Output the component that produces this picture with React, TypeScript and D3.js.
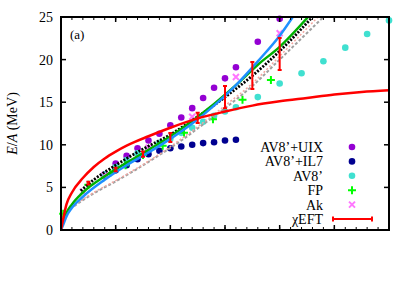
import React from "react";
import * as d3 from "d3";

// AFDMC points
const uixRho = [0.04, 0.05, 0.06, 0.07, 0.08, 0.09, 0.1, 0.11, 0.12, 0.13, 0.14, 0.15, 0.16, 0.18, 0.2];
const uixE = [6.5, 7.8, 8.7, 9.6, 10.5, 11.3, 12.3, 13.2, 14.3, 15.5, 16.7, 17.8, 19.1, 22.1, 24.8];

const il7Rho = [0.04, 0.05, 0.06, 0.07, 0.08, 0.09, 0.1, 0.11, 0.12, 0.13, 0.14, 0.15, 0.16];
const il7E = [6.4, 7.0, 7.6, 8.3, 8.9, 9.3, 9.6, 9.8, 10.0, 10.2, 10.3, 10.5, 10.6];

const av8Rho = [0.04, 0.05, 0.06, 0.07, 0.08, 0.09, 0.1, 0.11, 0.12, 0.13, 0.14, 0.15, 0.16, 0.18, 0.2, 0.22, 0.24, 0.26, 0.28, 0.3];
const av8E = [6.5, 7.4, 8.2, 9.0, 9.6, 10.2, 10.7, 11.4, 12.0, 12.7, 13.4, 13.9, 14.4, 15.6, 17.2, 18.4, 19.8, 21.4, 23.0, 24.6];

const fpRho = [0.002, 0.025, 0.045, 0.059, 0.075, 0.093, 0.1125, 0.139, 0.166, 0.192];
const fpE = [1.9, 5.3, 6.7, 7.6, 8.8, 9.9, 11.4, 13.0, 15.3, 17.6];

const akRho = [0.02, 0.04, 0.08, 0.12, 0.16, 0.2];
const akE = [4.5, 6.45, 9.65, 13.29, 17.96, 23.1];

// chiral EFT with error bars
const eftRho = [0.025, 0.05, 0.075, 0.1, 0.125, 0.15, 0.175, 0.2];
const eftE = [5.5, 7.1, 8.9, 10.86, 13.15, 15.6, 18.13, 20.66];
const eftErr = [0.15, 0.2, 0.3, 0.53, 0.6, 1.3, 1.58, 1.88];

// curves
const redRho = [0, 0.002, 0.005, 0.01, 0.02, 0.03, 0.04, 0.05, 0.06, 0.08, 0.1, 0.125, 0.15, 0.175, 0.2, 0.225, 0.25, 0.275, 0.3];
const redE = [0, 1.3, 3.0, 4.4, 6.1, 7.4, 8.4, 9.2, 9.9, 11.0, 12.0, 13.1, 13.9, 14.6, 15.1, 15.5, 15.9, 16.2, 16.4];

const blueRho = [0, 0.002, 0.005, 0.01, 0.02, 0.04, 0.06, 0.08, 0.1, 0.12, 0.14, 0.16, 0.18, 0.2, 0.212];
const blueE = [0, 0.6, 1.6, 2.6, 3.9, 5.9, 7.6, 9.1, 10.7, 12.5, 14.6, 17.0, 19.8, 22.8, 25.0];

const greenRho = [0, 0.002, 0.005, 0.01, 0.02, 0.04, 0.06, 0.08, 0.1, 0.12, 0.14, 0.16, 0.18, 0.2, 0.226];
const greenE = [0, 1.0, 2.0, 3.0, 4.4, 6.3, 7.9, 9.4, 11.0, 12.8, 14.8, 17.0, 19.4, 21.5, 25.0];

const dotRho = [0.018, 0.03, 0.05, 0.075, 0.1, 0.125, 0.15, 0.175, 0.2, 0.23];
const dotE = [4.6, 5.9, 7.6, 9.5, 11.2, 13.3, 15.6, 18.1, 21.0, 25.0];

const grayRho = [0.012, 0.02, 0.03, 0.05, 0.07, 0.09, 0.11, 0.13, 0.15, 0.175, 0.2, 0.24];
const grayE = [2.8, 3.5, 4.3, 5.7, 7.2, 8.8, 10.5, 12.4, 14.3, 16.9, 20.0, 25.0];

const salmonRho = [0.012, 0.02, 0.03, 0.05, 0.07, 0.09, 0.11, 0.13, 0.15, 0.175, 0.2, 0.235];
const salmonE = [2.9, 3.6, 4.4, 5.8, 7.3, 8.9, 10.7, 12.6, 14.6, 17.2, 20.4, 25.0];

const yTicks = [0, 5, 10, 15, 20, 25];
const legendLabels = ["AV8\u2019+UIX", "AV8\u2019+IL7", "AV8\u2019", "FP", "Ak", "\u03c7EFT"];

const W = 415;
const H = 291;
const L = 61, R = 389, T = 17, B = 230;

const zip = (xs: number[], ys: number[]) => xs.map((x, i) => [x, ys[i]] as [number, number]);

export default function App() {
  const x = d3.scaleLinear().domain([0, 0.3]).range([L, R]);
  const y = d3.scaleLinear().domain([0, 25]).range([B, T]);
  const line = d3
    .line<[number, number]>()
    .x((d) => x(d[0]))
    .y((d) => y(d[1]))
    .curve(d3.curveMonotoneX);

  const majorX = d3.range(0, 0.3001, 0.05);
  const minorX = d3.range(0, 0.3001, 0.01);
  const serif = { fontFamily: "Liberation Serif" };

  const dots = (rho: number[], e: number[], color: string) =>
    zip(rho, e).map((d, i) => <circle key={i} cx={x(d[0])} cy={y(d[1])} r={3.3} fill={color} />);

  const plus = (cx: number, cy: number, color: string, k: React.Key) => (
    <path key={k} d={`M${cx - 4},${cy}H${cx + 4}M${cx},${cy - 4}V${cy + 4}`} stroke={color} strokeWidth={2} />
  );
  const cross = (cx: number, cy: number, color: string, k: React.Key) => (
    <path key={k} d={`M${cx - 3},${cy - 3}L${cx + 3},${cy + 3}M${cx - 3},${cy + 3}L${cx + 3},${cy - 3}`} stroke={color} strokeWidth={2} />
  );

  const legY = (i: number) => 147 + i * 14.4;

  return (
    <svg width={W} height={H} style={{ position: "absolute", left: 0, top: 0, background: "#fff" }}>
      <defs>
        <clipPath id="plot">
          <rect x={L} y={T} width={R - L} height={B - T} />
        </clipPath>
      </defs>

      {/* points */}
      <g>{dots(uixRho, uixE, "#9400d3")}</g>
      <g>{dots(il7Rho, il7E, "#000090")}</g>
      <g>{dots(av8Rho, av8E, "#40e0d0")}</g>
      <g>{zip(fpRho, fpE).map((d, i) => plus(x(d[0]), y(d[1]), "#00ff00", i))}</g>
      <g>{zip(akRho, akE).map((d, i) => cross(x(d[0]), y(d[1]), "#ff77ff", i))}</g>

      {/* curves */}
      <g clipPath="url(#plot)" fill="none">
        <path d={line(zip(grayRho, grayE)) || ""} stroke="#a0a0a0" strokeWidth={2} strokeDasharray="3 2" />
        <path d={line(zip(salmonRho, salmonE)) || ""} stroke="#f4a6a0" strokeWidth={1.5} strokeDasharray="2 2" />
        <path d={line(zip(dotRho, dotE)) || ""} stroke="#000" strokeWidth={2.8} strokeDasharray="2 1.5" />
        <path d={line(zip(greenRho, greenE)) || ""} stroke="#00b000" strokeWidth={2.5} />
        <path d={line(zip(blueRho, blueE)) || ""} stroke="#1e8fff" strokeWidth={2.5} />
        <path d={line(zip(redRho, redE)) || ""} stroke="#ff0000" strokeWidth={2.5} />
      </g>

      {/* chiEFT error bars */}
      <g stroke="#ff0000" strokeWidth={2}>
        {eftRho.map((r, i) => {
          const cx = x(r);
          const y0 = y(eftE[i] - eftErr[i]);
          const y1 = y(eftE[i] + eftErr[i]);
          return (
            <path key={i} d={`M${cx},${y0}V${y1}M${cx - 2},${y0}H${cx + 2}M${cx - 2},${y1}H${cx + 2}`} />
          );
        })}
      </g>

      {/* frame and ticks */}
      <g stroke="#000" strokeWidth={1}>
        {minorX.map((v, i) => (
          <g key={"mx" + i}>
            <line x1={x(v)} x2={x(v)} y1={B} y2={B - 3} />
            <line x1={x(v)} x2={x(v)} y1={T} y2={T + 3} />
          </g>
        ))}
        {majorX.map((v, i) => (
          <g key={"Mx" + i}>
            <line x1={x(v)} x2={x(v)} y1={B} y2={B - 5} strokeWidth={1.5} />
            <line x1={x(v)} x2={x(v)} y1={T} y2={T + 5} strokeWidth={1.5} />
          </g>
        ))}
        {yTicks.map((v, i) => (
          <g key={"y" + i}>
            <line x1={L} x2={L + 5} y1={y(v)} y2={y(v)} strokeWidth={1.5} />
            <line x1={R} x2={R - 5} y1={y(v)} y2={y(v)} strokeWidth={1.5} />
          </g>
        ))}
      </g>
      <rect x={L} y={T} width={R - L} height={B - T} fill="none" stroke="#000" strokeWidth={2} />

      {/* y tick labels */}
      <g fontSize={14} textAnchor="end" style={serif}>
        {yTicks.map((v) => (
          <text key={v} x={53} y={y(v) + 5}>
            {v}
          </text>
        ))}
      </g>
      <text transform={`translate(17,${(T + B) / 2}) rotate(-90)`} textAnchor="middle" fontSize={14} style={serif}>
        <tspan fontStyle="italic">E</tspan>/<tspan fontStyle="italic">A</tspan> (MeV)
      </text>
      <text x={70} y={39} fontSize={13} style={serif}>
        (a)
      </text>

      {/* legend */}
      <g fontSize={14} textAnchor="end" style={serif}>
        {legendLabels.map((s, i) => (
          <text key={s} x={323} y={legY(i) + 5}>
            {s}
          </text>
        ))}
      </g>
      <circle cx={352} cy={legY(0)} r={3.3} fill="#9400d3" />
      <circle cx={352} cy={legY(1)} r={3.3} fill="#000090" />
      <circle cx={352} cy={legY(2)} r={3.3} fill="#40e0d0" />
      {plus(352, legY(3), "#00ff00", "lp")}
      {cross(352, legY(4), "#ff77ff", "lc")}
      <path
        d={`M333,${legY(5)}H372M333,${legY(5) - 2.5}V${legY(5) + 2.5}M372,${legY(5) - 2.5}V${legY(5) + 2.5}`}
        stroke="#ff0000"
        strokeWidth={2}
        fill="none"
      />
    </svg>
  );
}
